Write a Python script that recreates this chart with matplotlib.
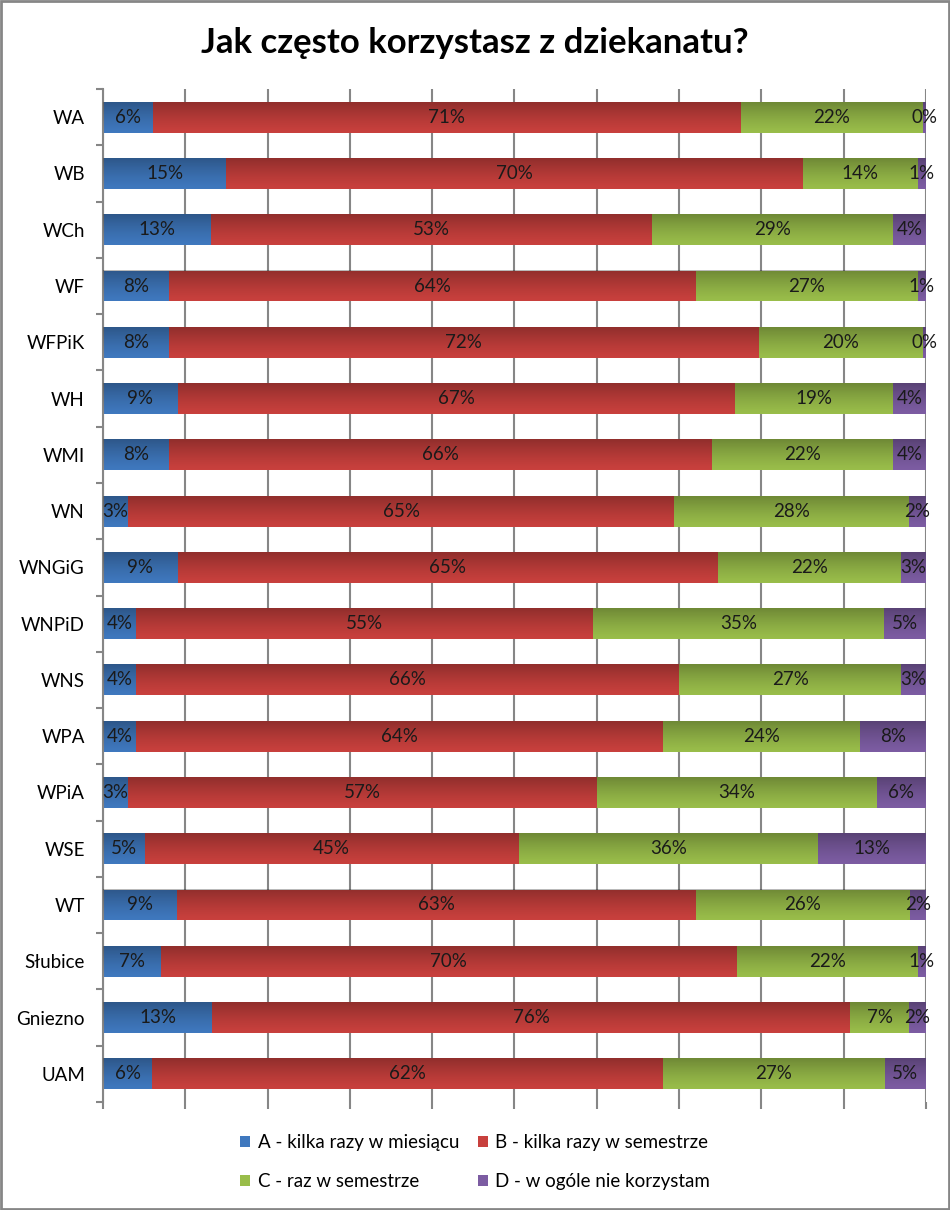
import numpy as np
import matplotlib
matplotlib.use('Agg')
import matplotlib.pyplot as plt
from matplotlib.patches import Patch

plt.rcParams['font.family'] = ['Lato', 'DejaVu Sans']

faculties = ['WA', 'WB', 'WCh', 'WF', 'WFPiK', 'WH', 'WMI', 'WN', 'WNGiG',
             'WNPiD', 'WNS', 'WPA', 'WPiA', 'WSE', 'WT', 'Słubice', 'Gniezno', 'UAM']
a_monthly = [6, 15, 13, 8, 8, 9, 8, 3, 9, 4, 4, 4, 3, 5, 9, 7, 13, 6]
b_semester_few = [71, 70, 53, 64, 72, 67, 66, 65, 65, 55, 66, 64, 57, 45, 63, 70, 76, 62]
c_semester_once = [22, 14, 29, 27, 20, 19, 22, 28, 22, 35, 27, 24, 34, 36, 26, 22, 7, 27]
d_never = [0.4, 1, 4, 1, 0.4, 4, 4, 2, 3, 5, 3, 8, 6, 13, 2, 1, 2, 5]

series_names = ['A - kilka razy w miesiącu', 'B - kilka razy w semestrze',
                'C - raz w semestrze', 'D - w ogóle nie korzystam']
colors = ['#3F78BE', '#C8403D', '#99BD4A', '#7C5CA2']

data = np.array([a_monthly, b_semester_few, c_semester_once, d_never], dtype=float)
shares = data / data.sum(axis=0) * 100

fig = plt.figure(figsize=(9.5, 12.1), dpi=100)
ax = fig.add_axes([0.1084, 0.0893, 0.8663, 0.8371])

y = np.arange(len(faculties))
bar_h = 0.55
left = np.zeros(len(faculties))
for k in range(4):
    ax.barh(y, shares[k], left=left, height=bar_h, color=colors[k], zorder=2)
    for i in range(len(faculties)):
        ax.text(left[i] + shares[k][i] / 2, y[i], '%.0f%%' % data[k][i],
                ha='center', va='center', fontsize=13.5, color='#1a1a1a', zorder=4)
    left += shares[k]

# darker towards the bottom of each bar, like the office gradient
grad = np.linspace(0, 1, 64).reshape(-1, 1)
shade = np.zeros((64, 1, 4))
shade[..., 3] = 0.28 * grad[:, 0:1] ** 1.3
for i in range(len(faculties)):
    ax.imshow(shade, extent=[0, 100, y[i] - bar_h / 2, y[i] + bar_h / 2],
              aspect='auto', origin='upper', zorder=3, interpolation='bilinear')

ax.set_xlim(0, 100)
ax.set_ylim(len(faculties) - 0.5, -0.5)
ax.set_xticks(np.arange(0, 101, 10))
ax.set_xticklabels([])
ax.set_yticks(y)
ax.set_yticklabels(faculties, fontsize=13.5)
ax.set_yticks(np.arange(-0.5, len(faculties), 1), minor=True)
ax.tick_params(axis='y', which='major', length=0, pad=13)
ax.tick_params(axis='y', which='minor', length=5, color='#868686', width=1.5)
ax.tick_params(axis='x', length=5, color='#868686', width=1.5)
ax.grid(axis='x', color='#868686', linewidth=1.5, zorder=0)
ax.set_axisbelow(True)
for s in ['top', 'right', 'bottom']:
    ax.spines[s].set_visible(False)
ax.spines['left'].set_color('#868686')
ax.spines['left'].set_linewidth(1.5)

fig.suptitle('Jak często korzystasz z dziekanatu?', y=0.978, fontsize=25,
             fontweight='bold')

handles = [Patch(facecolor=c, edgecolor='none') for c in colors]
order = [0, 2, 1, 3]
fig.legend([handles[i] for i in order], [series_names[i] for i in order],
           loc='center', bbox_to_anchor=(0.5, 0.0395), ncol=2, frameon=False,
           fontsize=13.5, handlelength=0.55, handleheight=0.55, handletextpad=0.4,
           columnspacing=1.0, labelspacing=1.15)

fig.patches.append(plt.Rectangle((0.001, 0.001), 0.998, 0.998, transform=fig.transFigure,
                                 fill=False, edgecolor='#868686', linewidth=2))

fig.savefig('out.png', dpi=100, facecolor='w')
